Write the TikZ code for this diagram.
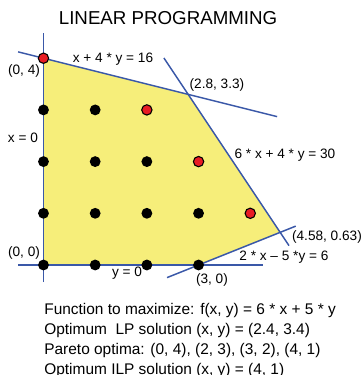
\documentclass[tikz,border=0pt]{standalone}
\usepackage{fontspec}
\setmainfont{Liberation Sans}
\usetikzlibrary{positioning}
\definecolor{lpyellow}{RGB}{246,238,122}
\definecolor{lpblue}{RGB}{58,88,168}
\definecolor{lpred}{RGB}{232,28,36}
\tikzset{
  cline/.style={lpblue,line width=0.8pt},
  intpt/.style={circle,fill=black,inner sep=0pt,minimum size=2.1mm},
  optpt/.style={circle,draw=black,fill=lpred,line width=0.6pt,inner sep=0pt,minimum size=2mm},
  lbl/.style={font=\fontsize{7.5}{9}\selectfont,inner sep=0pt},
  txt/.style={font=\fontsize{8.5}{11.3}\selectfont,inner sep=0pt,anchor=base west},
}
\begin{document}
\begin{tikzpicture}
\useasboundingbox (-0.841,-2.128) rectangle (6.18,5.126);

\node[font=\fontsize{10.3}{12}\selectfont,inner sep=0pt,anchor=base] (title) at (2.41,4.66) {LINEAR PROGRAMMING};

% feasible region
\coordinate (v0) at (0,0);
\coordinate (v1) at (0,4);
\coordinate (v2) at (2.8,3.3);
\coordinate (v3) at (4.579,0.632);
\coordinate (v4) at (3,0);
\fill[lpyellow] (v0) -- (v1) -- (v2) -- (v3) -- (v4) -- cycle;

% constraint lines
\coordinate (xa) at (0,-0.33);       \coordinate (xb) at (0,4.49);
\coordinate (ya) at (-0.49,0);       \coordinate (yb) at (4.25,0);
\coordinate (aa) at (-0.49,4.1225);  \coordinate (ab) at (4.52,2.87);
\coordinate (ba) at (2.33,4.005);    \coordinate (bb) at (4.75,0.375);
\coordinate (ca) at (2.39,-0.244);   \coordinate (cb) at (4.88,0.752);
\foreach \l in {x,y,a,b,c} \draw[cline] (\l a) -- (\l b);

% integer points
\foreach \x/\y in {0/0,1/0,2/0,3/0,0/1,1/1,2/1,3/1,0/2,1/2,2/2,0/3,1/3}
  \node[intpt] (p\x\y) at (\x,\y) {};
\foreach \x/\y in {0/4,2/3,3/2,4/1}
  \node[optpt] (p\x\y) at (\x,\y) {};

% labels
\node[lbl] (l04) at (-0.377,3.75) {(0, 4)};
\node[lbl] (la) at (1.344,3.985) {x + 4 * y = 16};
\node[lbl] (l23) at (3.356,3.48) {(2.8, 3.3)};
\node[lbl] (lx) at (-0.397,2.456) {x = 0};
\node[lbl] (lb) at (4.671,2.128) {6 * x + 4 * y = 30};
\node[lbl] (l41) at (5.484,0.542) {(4.58, 0.63)};
\node[lbl] (l00) at (-0.377,0.232) {(0, 0)};
\node[lbl] (lc) at (4.652,0.155) {2 * x – 5 *y = 6};
\node[lbl] (ly) at (1.615,-0.155) {y = 0};
\node[lbl] (l30) at (3.259,-0.29) {(3, 0)};

\node[txt] (t1) at (0.01,-0.948) {Function to maximize: f(x, y) = 6 * x + 5 * y};
\node[txt] (t2) at (0.01,-1.340) {Optimum~ LP solution (x, y) = (2.4, 3.4)};
\node[txt] (t3) at (0.01,-1.727) {Pareto optima: (0, 4), (2, 3), (3, 2), (4, 1)};
\node[txt] (t4) at (0.01,-2.120) {Optimum ILP solution (x, y) = (4, 1)};

\end{tikzpicture}
\end{document}
